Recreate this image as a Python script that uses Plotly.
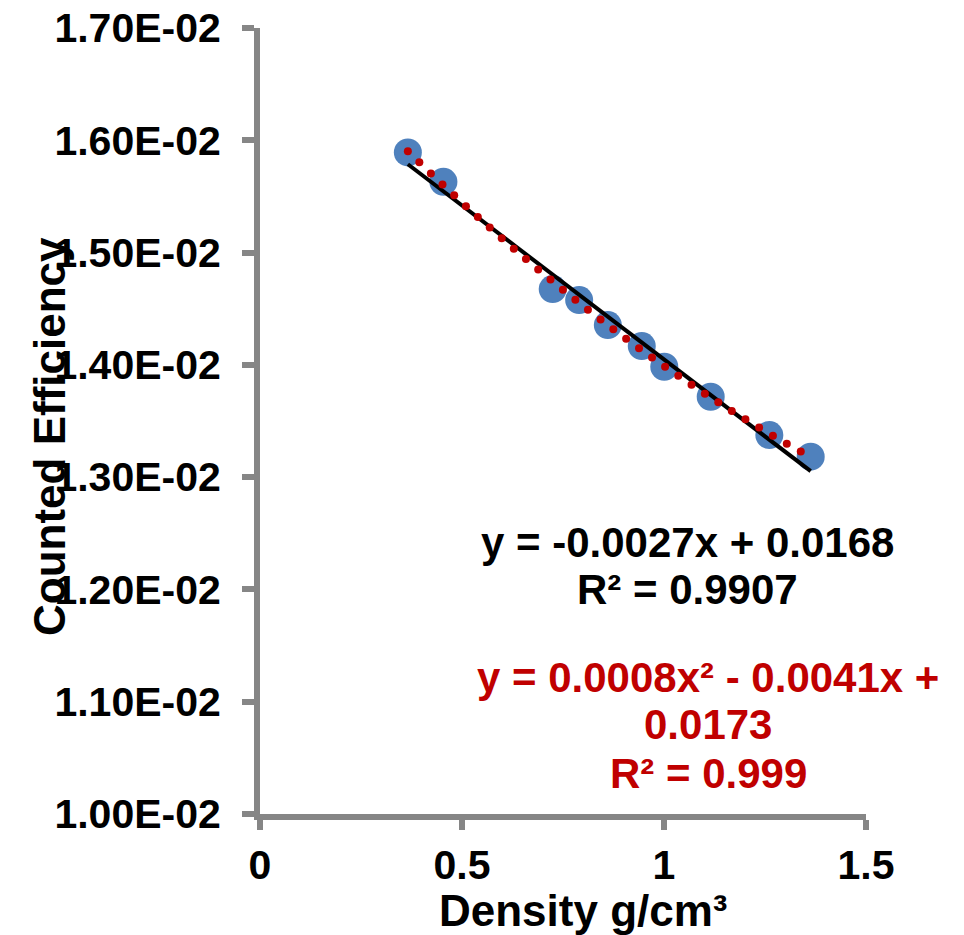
import numpy as np
import plotly.graph_objects as go

# ---- data ----
density = [0.366, 0.454, 0.7245, 0.790, 0.861, 0.945, 1.0007, 1.1156, 1.2607, 1.3631]
efficiency = [0.015892, 0.015630, 0.014675, 0.014577, 0.014354, 0.014167,
              0.013983, 0.013716, 0.013375, 0.013182]

x_ticks = [0, 0.5, 1, 1.5]
x_tick_labels = ["0", "0.5", "1", "1.5"]
y_ticks = [0.010, 0.011, 0.012, 0.013, 0.014, 0.015, 0.016, 0.017]
y_tick_labels = ["1.00E-02", "1.10E-02", "1.20E-02", "1.30E-02",
                 "1.40E-02", "1.50E-02", "1.60E-02", "1.70E-02"]

lin_eq = ["y = -0.0027x + 0.0168", "R² = 0.9907"]
poly_eq = ["y = 0.0008x² - 0.0041x +", "0.0173", "R² = 0.999"]

x_title = "Density g/cm³"
y_title = "Counted Efficiency"

# ---- styling ----
FONT = "Liberation Sans, Arial, sans-serif"
GRAY = "#868686"
BLUE = "#4F81BD"
RED = "#C00000"

W, H = 964, 935
L, R, T, B = 260, 98, 28, 121
XR = [0, 1.5]
YR = [0.010, 0.017]
pw, ph = W - L - R, H - T - B
sx, sy = pw / (XR[1] - XR[0]), ph / (YR[1] - YR[0])

x = np.array(density)
y = np.array(efficiency)

# linear trendline
c1 = np.polyfit(x, y, 1)
xl = np.array([x.min(), x.max()])
yl = np.polyval(c1, xl)

# quadratic trendline drawn as round dots, evenly spaced along the curve (in pixels)
c2 = np.polyfit(x, y, 2)
xd = np.linspace(x.min(), x.max(), 2000)
yd = np.polyval(c2, xd)
seg = np.hypot(np.diff(xd) * sx, np.diff(yd) * sy)
arc = np.concatenate([[0], np.cumsum(seg)])
targets = np.arange(0, arc[-1] + 1e-9, 16.0)
xq = np.interp(targets, arc, xd)
yq = np.polyval(c2, xq)

fig = go.Figure()
fig.add_trace(go.Scatter(x=density, y=efficiency, mode="markers",
                         marker=dict(size=28, color=BLUE, line=dict(width=0)),
                         showlegend=False, cliponaxis=False))
fig.add_trace(go.Scatter(x=xl, y=yl, mode="lines",
                         line=dict(color="black", width=4),
                         showlegend=False, cliponaxis=False))
fig.add_trace(go.Scatter(x=xq, y=yq, mode="markers",
                         marker=dict(size=8, color=RED, line=dict(width=0)),
                         showlegend=False, cliponaxis=False))

ytickfont = dict(family=FONT, size=41, color="black", weight=700)
xtickfont = dict(family=FONT, size=41, color="black", weight=700)

fig.update_layout(
    width=W, height=H,
    margin=dict(l=L, r=R, t=T, b=B, autoexpand=False),
    paper_bgcolor="white", plot_bgcolor="white",
    xaxis=dict(range=XR, tickvals=x_ticks, ticktext=x_tick_labels,
               showgrid=False, zeroline=False, showline=True,
               linecolor=GRAY, linewidth=6, ticks="outside", ticklen=10,
               tickwidth=6, tickcolor=GRAY, tickfont=xtickfont,
               ticklabelstandoff=0, fixedrange=True),
    yaxis=dict(range=YR, tickvals=y_ticks, ticktext=y_tick_labels,
               showgrid=False, zeroline=False, showline=True,
               linecolor=GRAY, linewidth=6, ticks="outside", ticklen=12,
               tickwidth=6, tickcolor=GRAY, tickfont=ytickfont,
               ticklabelstandoff=13, fixedrange=True),
)

ann_font = dict(family=FONT, size=42, weight=700)

# equation labels (data coordinates)
lin_pos = [(1.059, 0.012422), (1.059, 0.011995)]
for txt, (ax_, ay_) in zip(lin_eq, lin_pos):
    fig.add_annotation(x=ax_, y=ay_, text=txt, showarrow=False,
                       xanchor="center", yanchor="middle",
                       font=dict(ann_font, color="black"))
poly_pos = [(1.109, 0.011220), (1.109, 0.010793), (1.109, 0.010365)]
for txt, (ax_, ay_) in zip(poly_eq, poly_pos):
    fig.add_annotation(x=ax_, y=ay_, text=txt, showarrow=False,
                       xanchor="center", yanchor="middle",
                       font=dict(ann_font, color=RED))

# axis titles
fig.add_annotation(xref="paper", yref="paper", x=(50 - L) / pw, y=(H - B - 437) / ph,
                   text=y_title, textangle=-90, showarrow=False,
                   xanchor="center", yanchor="middle",
                   font=dict(family=FONT, size=44, color="black", weight=700))
fig.add_annotation(xref="paper", yref="paper", x=(583 - L) / pw, y=(H - B - 910) / ph,
                   text=x_title, showarrow=False,
                   xanchor="center", yanchor="middle",
                   font=dict(family=FONT, size=44, color="black", weight=700))

fig.write_html("out.html",
               config={"displayModeBar": False},
               post_script="document.body.style.margin='0';"
                           "document.body.style.overflow='hidden';")
